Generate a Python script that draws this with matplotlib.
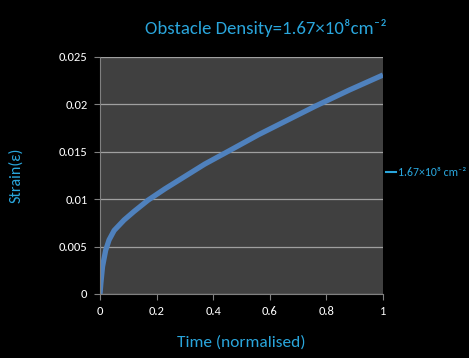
import matplotlib
matplotlib.use("Agg")
import matplotlib.pyplot as plt

# strain vs normalised time
time = [0, 0.003, 0.009, 0.02, 0.032, 0.05, 0.085, 0.12, 0.17, 0.23, 0.3,
        0.37, 0.45, 0.56, 0.68, 0.76, 0.88, 1.0]
strain = [0, 0.0011, 0.0029, 0.0046, 0.0057, 0.0067, 0.0078, 0.0087, 0.0099,
          0.0111, 0.0124, 0.0137, 0.0150, 0.0168, 0.0186, 0.0198, 0.0215, 0.0231]
series_label = "1.67×10⁸ cm⁻²"

cyan = "#2aa6dc"
plt.rcParams["font.family"] = ["Carlito", "Liberation Sans Narrow", "DejaVu Sans"]

fig = plt.figure(figsize=(4.69, 3.58), dpi=100, facecolor="black")
ax = fig.add_axes([0.2132, 0.1788, 0.6034, 0.662])
ax.set_facecolor("#404040")

ax.plot(time, strain, color="#4f81bd", lw=3.8, solid_capstyle="butt",
        solid_joinstyle="round")
ax.set_xlim(0, 1)
ax.set_ylim(0, 0.025)
ax.set_xticks([0, 0.2, 0.4, 0.6, 0.8, 1])
ax.set_xticklabels(["0", "0.2", "0.4", "0.6", "0.8", "1"])
ax.set_yticks([0, 0.005, 0.01, 0.015, 0.02, 0.025])
ax.set_yticklabels(["0", "0.005", "0.01", "0.015", "0.02", "0.025"])
ax.yaxis.grid(True, color="#a0a0a0", lw=0.9)
ax.set_axisbelow(True)
for s in ax.spines.values():
    s.set_visible(False)
ax.spines["left"].set_visible(True)
ax.spines["bottom"].set_visible(True)
ax.spines["left"].set_color("#808080")
ax.spines["bottom"].set_color("#808080")
ax.tick_params(colors="#808080", labelcolor="white", labelsize=9, length=4,
               direction="out", pad=5)

ax.set_xlabel("Time (normalised)", color=cyan, fontsize=12.5, labelpad=13)
ax.set_ylabel("Strain(ε)", color=cyan, fontsize=11.5)
ax.yaxis.set_label_coords(-0.27, 0.5)
fig.text(0.567, 0.922, "Obstacle Density=1.67×10⁸cm⁻²", color=cyan,
         fontsize=13.5, ha="center", va="center")

fig.lines.append(plt.Line2D([386 / 469, 396 / 469], [1 - 172 / 358] * 2,
                            color=cyan, lw=1.5, transform=fig.transFigure))
fig.text(398 / 469, 1 - 172 / 358, series_label, color=cyan, fontsize=8.5,
         ha="left", va="center")

fig.savefig("out.png", dpi=100, facecolor="black")
